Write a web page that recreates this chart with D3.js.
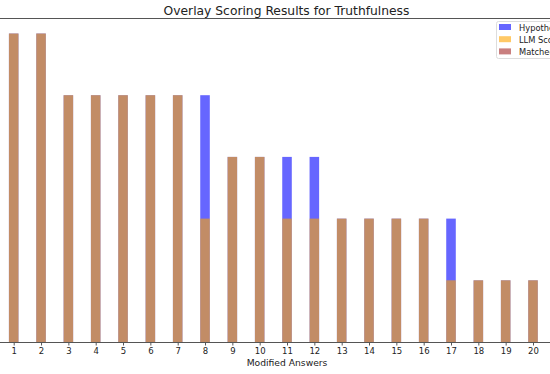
<!DOCTYPE html>
<html>
<head>
<meta charset="utf-8">
<script src="https://cdn.jsdelivr.net/npm/d3@7"></script>
<style>
  body { margin: 0; background: #fff; }
  svg { display: block; font-family: "DejaVu Sans", sans-serif; }
</style>
</head>
<body>
<div id="chart"></div>
<script>
// data
var answers = d3.range(1, 21);
var hypothesis = [5, 5, 4, 4, 4, 4, 4, 4, 3, 3, 3, 3, 2, 2, 2, 2, 2, 1, 1, 1];
var llmScore   = [5, 5, 4, 4, 4, 4, 4, 2, 3, 3, 2, 2, 2, 2, 2, 2, 1, 1, 1, 1];
var matched    = [0, 0, 0, 0, 0, 0, 0, 0, 0, 0, 0, 0, 0, 0, 0, 0, 0, 0, 0, 0];
var seriesNames = ['Hypothesis Score', 'LLM Score', 'Matched Score'];
var seriesColors = ['rgba(0,0,255,0.6)', 'rgba(255,165,0,0.6)', 'rgba(165,42,42,0.6)'];

var width = 550, height = 374;
var svg = d3.select('#chart').append('svg')
  .attr('width', width)
  .attr('height', height);

var xScale = d3.scaleLinear().domain([1, 20]).range([13.7, 533]);
var yScale = d3.scaleLinear().domain([0, 5]).range([342, 33.5]);
var barW = xScale(1.35) - xScale(1); // width 0.35

// bars, drawn in order so they overlay
[hypothesis, llmScore, matched].forEach(function (vals, k) {
  svg.append('g').selectAll('rect')
    .data(answers)
    .enter().append('rect')
    .attr('x', function (d) { return xScale(d) - barW / 2; })
    .attr('y', function (d, i) { return yScale(vals[i]); })
    .attr('width', barW)
    .attr('height', function (d, i) { return yScale(0) - yScale(vals[i]); })
    .attr('fill', seriesColors[k]);
});

// spines (axes run off the edge of the window)
svg.append('line')
  .attr('x1', 0).attr('x2', width)
  .attr('y1', 18.5).attr('y2', 18.5)
  .attr('stroke', '#555').attr('stroke-width', 1);

var xAxis = d3.axisBottom(xScale)
  .tickValues(answers)
  .tickFormat(d3.format('d'))
  .tickSize(3.5);
var gx = svg.append('g')
  .attr('transform', 'translate(0,342)')
  .call(xAxis);
gx.select('.domain').remove();
gx.append('line')
  .attr('x1', 0).attr('x2', width)
  .attr('y1', 0.5).attr('y2', 0.5)
  .attr('stroke', '#555');
gx.selectAll('.tick line').attr('stroke', '#555');
gx.selectAll('.tick text')
  .attr('fill', '#222')
  .attr('y', 6)
  .style('font-size', '8.5px')
  .style('font-family', '"DejaVu Sans", sans-serif');

svg.append('text')
  .attr('x', 287)
  .attr('y', 365.5)
  .attr('text-anchor', 'middle')
  .attr('fill', '#222')
  .style('font-size', '9.2px')
  .text('Modified Answers');

svg.append('text')
  .attr('x', 286.5)
  .attr('y', 14.5)
  .attr('text-anchor', 'middle')
  .attr('fill', '#222')
  .style('font-size', '12.3px')
  .text('Overlay Scoring Results for Truthfulness');

// legend
var legend = svg.append('g').attr('transform', 'translate(496,21)');
legend.append('rect')
  .attr('x', 0.5).attr('y', 0.5)
  .attr('width', 80).attr('height', 37)
  .attr('rx', 2)
  .attr('fill', '#fff')
  .attr('stroke', '#ddd');
seriesNames.forEach(function (name, i) {
  legend.append('rect')
    .attr('x', 3).attr('y', 3 + i * 12.2)
    .attr('width', 12).attr('height', 6)
    .attr('fill', seriesColors[i]);
  legend.append('text')
    .attr('x', 23).attr('y', 9.5 + i * 12.2)
    .attr('fill', '#222')
    .style('font-size', '8.3px')
    .text(name);
});
</script>
</body>
</html>
